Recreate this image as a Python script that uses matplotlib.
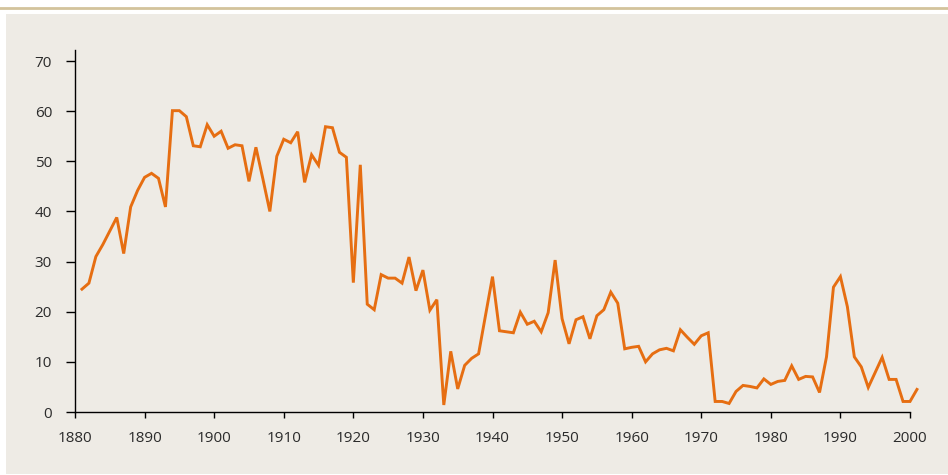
import matplotlib.pyplot as plt
from matplotlib.patches import Rectangle
from matplotlib.lines import Line2D

# --- Data (annual values) ---
years = list(range(1881, 2002))
values = [
    24.5, 25.7, 31.0, 33.4, 36.1, 38.8, 31.6, 40.9, 44.2, 46.8,  # 1881-1890
    47.6, 46.6, 40.9, 60.1, 60.1, 58.9, 53.1, 52.9, 57.3, 55.0,  # 1891-1900
    56.0, 52.6, 53.3, 53.1, 46.0, 52.8, 46.5, 40.0, 51.0, 54.4,  # 1901-1910
    53.7, 55.9, 45.8, 51.3, 49.2, 56.9, 56.7, 51.8, 50.8, 25.8,  # 1911-1920
    49.3, 21.5, 20.4, 27.4, 26.7, 26.7, 25.7, 30.9, 24.2, 28.3,  # 1921-1930
    20.3, 22.4, 1.4, 12.1, 4.6, 9.3, 10.7, 11.6, 19.3, 27.0,     # 1931-1940
    16.2, 16.0, 15.8, 19.9, 17.5, 18.1, 16.0, 19.8, 30.3, 18.6,  # 1941-1950
    13.6, 18.4, 19.0, 14.6, 19.2, 20.4, 23.9, 21.7, 12.6, 12.9,  # 1951-1960
    13.1, 10.0, 11.6, 12.4, 12.7, 12.2, 16.4, 14.9, 13.5, 15.2,  # 1961-1970
    15.8, 2.1, 2.1, 1.7, 4.1, 5.3, 5.1, 4.8, 6.6, 5.5,           # 1971-1980
    6.1, 6.3, 9.2, 6.5, 7.1, 7.0, 3.9, 11.0, 24.9, 27.0,         # 1981-1990
    21.0, 11.0, 9.0, 4.9, 7.9, 10.9, 6.5, 6.5, 2.1, 2.1,         # 1991-2000
    4.5,                                                         # 2001
]
xticks = list(range(1880, 2001, 10))
yticks = list(range(0, 71, 10))

# --- Styling ---
PANEL = "#EEEBE5"
TAN = "#D3C39C"
LINE = "#E66E12"
TEXT = "#2b2b2b"
plt.rcParams["font.family"] = ["Open Sans", "DejaVu Sans"]

fig = plt.figure(figsize=(9.48, 4.75), dpi=100, facecolor="white")

# background panel and thin rule on top
fig.patches.append(Rectangle((6 / 948, 1 / 475), 942 / 948, 460 / 475,
                             transform=fig.transFigure, facecolor=PANEL,
                             edgecolor="none", zorder=-10))
fig.lines.append(Line2D([0, 1], [1 - 7.5 / 475, 1 - 7.5 / 475],
                        transform=fig.transFigure, color=TAN, lw=2.0,
                        zorder=-10))

ax = fig.add_axes([75 / 948, 63 / 475, 835 / 948, 362 / 475])
ax.set_facecolor("none")

ax.plot(years, values, color=LINE, lw=2.1, clip_on=False, solid_joinstyle="miter")

ax.set_xlim(1880, 2000)
ax.set_ylim(0, 72.2)
ax.set_xticks(xticks)
ax.set_yticks(yticks)

for side in ("top", "right"):
    ax.spines[side].set_visible(False)
for side in ("left", "bottom"):
    ax.spines[side].set_linewidth(1.0)
    ax.spines[side].set_color("black")

ax.tick_params(axis="y", direction="out", length=6.5, width=1.0, pad=10,
               labelsize=11, labelcolor=TEXT)
ax.tick_params(axis="x", direction="out", length=4, width=1.0, pad=10,
               labelsize=11, labelcolor=TEXT)

fig.savefig("out.png", dpi=100, facecolor="white")
